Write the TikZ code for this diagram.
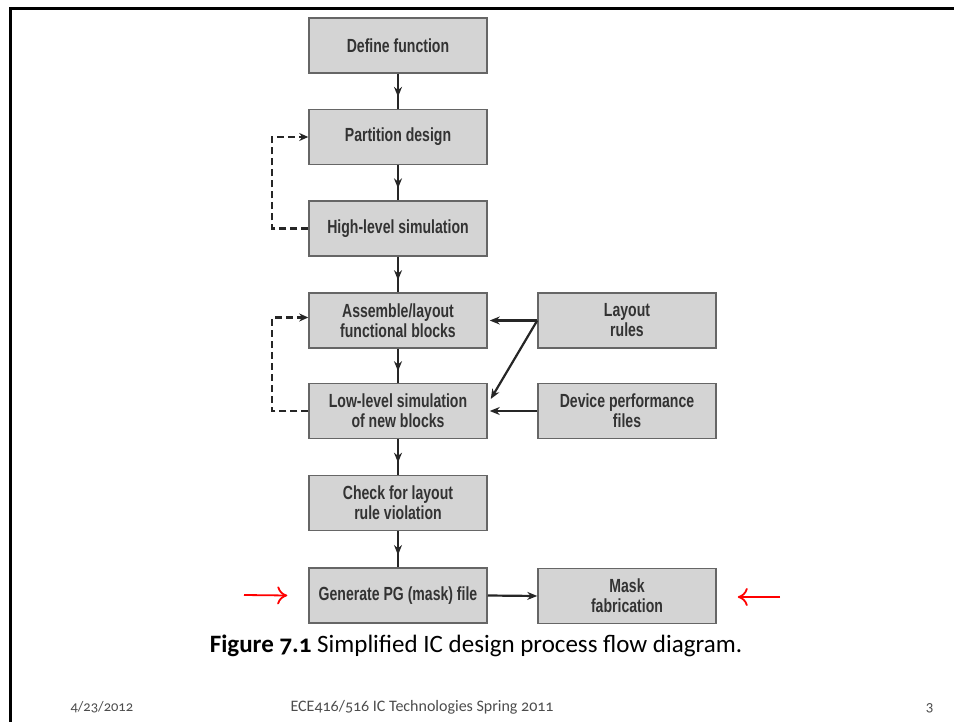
\documentclass[tikz,border=0pt]{standalone}
\usepackage{fontspec}
\setmainfont{Carlito}[Numbers=OldStyle]
\newfontfamily\boxfont{Liberation Sans}[FakeStretch=0.74]
\usetikzlibrary{arrows.meta,calc}
\begin{document}
\begin{tikzpicture}[x=1pt,y=-1pt,
  blk/.style={draw=black!60,line width=1.5pt,fill=black!17,minimum width=178pt,
    minimum height=55pt,inner sep=2pt,align=center,text=black!80,
    font=\boxfont\bfseries\fontsize{19}{20}\selectfont},
  flow/.style={draw=black!85,line width=2.2pt},
  tip/.style={-{Stealth[length=10pt,width=8pt]}},
  loop/.style={draw=black!85,line width=2.2pt,dash pattern=on 7pt off 4pt,-{Stealth[length=9pt,width=8pt]}},
  redarr/.style={draw=red,line width=1.8pt,-{Computer Modern Rightarrow[length=10pt,width=18pt]}},
  frame/.style={draw=black,line width=3pt}]
\useasboundingbox (0,0) rectangle (954,722);
\draw[frame] (954,8.5) -- (10.5,8.5) -- (10.5,722);
% boxes
\node[blk] (def)  at (398,45.5)  {Define function};
\node[blk] (part) at (398,137)   {Partition design};
\node[blk] (high) at (398,228.5) {High-level simulation};
\node[blk] (asm)  at (398,320.5) {Assemble/layout\\functional blocks};
\node[blk] (low)  at (398,411)   {Low-level simulation\\of new blocks};
\node[blk] (chk)  at (398,503)   {Check for layout\\rule violation};
\node[blk] (gen)  at (398,595.5) {Generate PG (mask) file};
\node[blk] (lay)  at (627,320.5) {Layout\\rules};
\node[blk] (dev)  at (627,411)   {Device performance\\files};
\node[blk] (mask) at (627,596)   {Mask\\fabrication};
% vertical flow with mid arrowheads
\foreach \a/\b in {def/part,part/high,high/asm,asm/low,low/chk,chk/gen}{
  \draw[flow] (\a.south) -- (\b.north);
  \draw[flow,tip] (\a.south) -- ($(\a.south)!0.66!(\b.north)$);
}
% side inputs
\coordinate (lowin) at ($(low.east)+(3,-12)$);
\draw[flow,tip] (lay.west) -- ($(asm.east)+(2,0)$);
\draw[flow,tip] (lay.west) -- (lowin);
\draw[flow,tip] (dev.west) -- ($(low.east)+(2,0)$);
\draw[flow,tip] (gen.east) -- (mask.west);
% dashed feedback loops
\draw[loop] (high.west) -- ++(-36,0) |- (part.west);
\draw[loop] (low.west) -- ++(-36,0) |- ($(asm.west)+(0,-3)$);
% red markers
\coordinate (rl) at (244,595);
\coordinate (rr) at (780,597);
\draw[redarr] (rl) -- ($(gen.west)+(-21,0)$);
\draw[redarr] (rr) -- ($(mask.east)+(21,1)$);
% caption and footer
\node[anchor=base,font=\fontsize{25}{28}\selectfont] (cap) at (476,652)
  {\textbf{Figure 7.1} Simplified IC design process flow diagram.};
\node[anchor=base west,font=\fontsize{14.5}{16}\selectfont,text=black!70] (date) at (67,711) {4/23/2012};
\node[anchor=base west,font=\fontsize{16}{18}\selectfont,text=black!70] (course) at (287,711) {ECE416/516 IC Technologies Spring 2011};
\node[anchor=base east,font=\fontsize{15}{17}\selectfont,text=black!70] (pg) at (937,711) {3};
\end{tikzpicture}
\end{document}
